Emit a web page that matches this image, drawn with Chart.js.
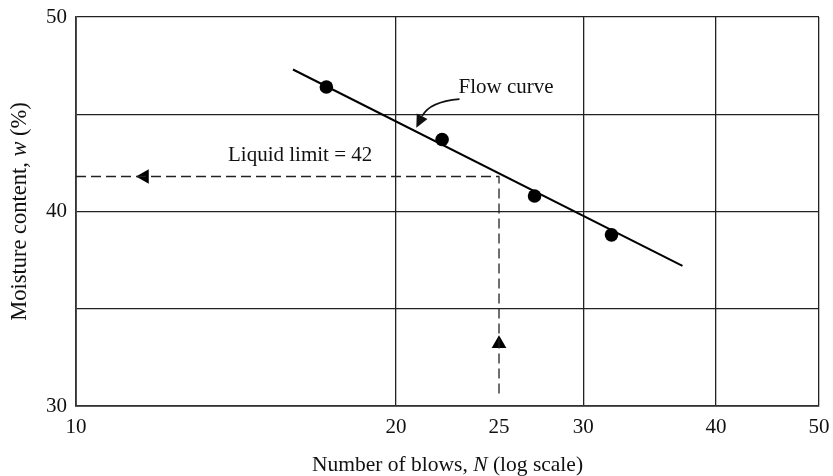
<!DOCTYPE html>
<html>
<head>
<meta charset="utf-8">
<script src="https://cdn.jsdelivr.net/npm/chart.js@4"></script>
<style>
  html, body { margin: 0; padding: 0; background: #fff; }
  #wrap { width: 833px; height: 476px; }
</style>
</head>
<body>
<div id="wrap"><canvas id="myChart"></canvas></div>
<script>
const FONT = '"Liberation Serif", "DejaVu Serif", serif';

// test results
const blows = [17.2, 22.1, 27.0, 31.9];
const moisture = [46.4, 43.7, 40.8, 38.8];

// fitted flow curve ends
const flowBlows = [16, 37.2];
const flowMoisture = [47.3, 37.2];

// dashed guide to the liquid limit, and its arrowheads
const guideBlows = [10, 25, 25];
const guideMoisture = [41.8, 41.8, 30.5];
const arrowBlows = [11.6, 25];
const arrowMoisture = [41.8, 33.2];
const arrowTurn = [-90, 0];

const xTicks = [10, 20, 25, 30, 40, 50];
const yLabels = [30, 40, 50];

// annotation anchors (data units)
const llText = 'Liquid limit = 42';
const llAt = [13.9, 42.9];
const flowText = 'Flow curve';
const flowAt = [22.9, 46.4];
const flowArrowBlows = [22.95, 21.5, 20.9];
const flowArrowMoisture = [45.78, 45.65, 44.3];

function toPoints(xs, ys) {
  return xs.map((x, i) => ({ x, y: ys[i] }));
}

function drawMixed(ctx, parts, size, cx, cy) {
  let total = 0;
  parts.forEach((p) => {
    ctx.font = `${p[1] ? 'italic ' : ''}${size}px ${FONT}`;
    total += ctx.measureText(p[0]).width;
  });
  let x = cx - total / 2;
  ctx.textAlign = 'left';
  ctx.textBaseline = 'middle';
  parts.forEach((p) => {
    ctx.font = `${p[1] ? 'italic ' : ''}${size}px ${FONT}`;
    ctx.fillText(p[0], x, cy);
    x += ctx.measureText(p[0]).width;
  });
}

const annotate = {
  id: 'annotate',
  afterDraw(chart) {
    const { ctx, chartArea } = chart;
    const sx = chart.scales.x;
    const sy = chart.scales.y;
    ctx.save();
    ctx.fillStyle = '#111';

    // axis titles
    drawMixed(ctx, [['Number of blows, ', false], ['N', true], [' (log scale)', false]],
      21.5, (chartArea.left + chartArea.right) / 2, 465);
    ctx.save();
    ctx.translate(20, (chartArea.top + chartArea.bottom) / 2);
    ctx.rotate(-Math.PI / 2);
    drawMixed(ctx, [['Moisture content, ', false], ['w', true], [' (%)', false]], 22.5, 0, 0);
    ctx.restore();

    // labels
    ctx.font = `21px ${FONT}`;
    ctx.textAlign = 'left';
    ctx.textBaseline = 'middle';
    ctx.fillText(llText, sx.getPixelForValue(llAt[0]), sy.getPixelForValue(llAt[1]));
    ctx.fillText(flowText, sx.getPixelForValue(flowAt[0]), sy.getPixelForValue(flowAt[1]));

    // curved arrow to the flow curve
    const p = flowArrowBlows.map((b, i) => [sx.getPixelForValue(b), sy.getPixelForValue(flowArrowMoisture[i])]);
    const ang = Math.atan2(p[2][1] - p[1][1], p[2][0] - p[1][0]);
    const len = 13;
    const bx = p[2][0] - Math.cos(ang) * len;
    const by = p[2][1] - Math.sin(ang) * len;
    ctx.strokeStyle = '#111';
    ctx.lineWidth = 1.6;
    ctx.beginPath();
    ctx.moveTo(p[0][0], p[0][1]);
    ctx.quadraticCurveTo(p[1][0], p[1][1], bx, by);
    ctx.stroke();
    ctx.beginPath();
    ctx.moveTo(p[2][0], p[2][1]);
    ctx.lineTo(bx + Math.cos(ang + Math.PI / 2) * 6, by + Math.sin(ang + Math.PI / 2) * 6);
    ctx.lineTo(bx - Math.cos(ang + Math.PI / 2) * 6, by - Math.sin(ang + Math.PI / 2) * 6);
    ctx.closePath();
    ctx.fill();
    ctx.restore();
  },
};

const chartElement = document.getElementById('myChart').getContext('2d');

const chart = new Chart(chartElement, {
  type: 'scatter',
  data: {
    datasets: [{
      label: 'Guide',
      data: toPoints(guideBlows, guideMoisture),
      showLine: true,
      borderColor: '#222',
      borderWidth: 1.3,
      borderDash: [10, 5],
      pointRadius: 0,
    }, {
      label: 'Arrows',
      data: toPoints(arrowBlows, arrowMoisture),
      pointStyle: 'triangle',
      rotation: arrowTurn,
      pointRadius: 8.5,
      backgroundColor: '#000',
      borderWidth: 0,
    }, {
      label: 'Flow curve',
      data: toPoints(flowBlows, flowMoisture),
      showLine: true,
      borderColor: '#000',
      borderWidth: 2,
      pointRadius: 0,
    }, {
      label: 'Tests',
      data: toPoints(blows, moisture),
      pointRadius: 6.8,
      backgroundColor: '#000',
      borderWidth: 0,
    }],
  },
  options: {
    responsive: true,
    maintainAspectRatio: false,
    animation: false,
    layout: { padding: { left: 0, right: 14, top: 17, bottom: 0 } },
    plugins: { legend: { display: false }, tooltip: { enabled: false } },
    scales: {
      x: {
        type: 'logarithmic',
        min: 10,
        max: 50,
        afterBuildTicks: (scale) => {
          scale.ticks = xTicks.map((v) => ({ value: v }));
        },
        afterFit: (scale) => {
          scale.height = 70;
          scale.paddingLeft = 0;
          scale.paddingRight = 0;
        },
        grid: {
          color: (c) => (c.tick && c.tick.value === 25 ? 'rgba(0,0,0,0)' : '#222'),
          lineWidth: 1.3,
          drawTicks: false,
        },
        border: { color: '#333', width: 1.8 },
        ticks: {
          autoSkip: false,
          maxRotation: 0,
          padding: 9,
          color: '#111',
          font: { family: FONT, size: 21 },
          callback: (v) => String(v),
        },
      },
      y: {
        min: 30,
        max: 50,
        afterFit: (scale) => {
          scale.width = 76;
          scale.paddingTop = 0;
          scale.paddingBottom = 0;
        },
        grid: { color: '#222', lineWidth: 1.3, drawTicks: false },
        border: { color: '#333', width: 1.8 },
        ticks: {
          stepSize: 5,
          padding: 9,
          color: '#111',
          font: { family: FONT, size: 21 },
          callback: (v) => (yLabels.includes(v) ? String(v) : ''),
        },
      },
    },
  },
  plugins: [annotate],
});
</script>
</body>
</html>
